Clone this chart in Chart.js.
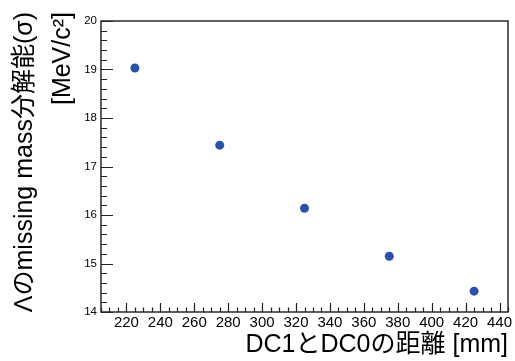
<!DOCTYPE html>
<html>
<head>
<meta charset="utf-8">
<script src="https://cdn.jsdelivr.net/npm/chart.js@4"></script>
<style>
  html, body { margin: 0; padding: 0; background: #fff; }
  canvas { display: block; }
</style>
</head>
<body>
<canvas id="c" width="515" height="361"></canvas>
<script>
// Λ missing-mass resolution versus DC1–DC0 separation
const distances = [225, 275, 325, 375, 425];          // mm
const sigma = [19.03, 17.44, 16.14, 15.15, 14.43];     // MeV/c^2

const xTickLabels = [220, 240, 260, 280, 300, 320, 340, 360, 380, 400, 420, 440];
const yTickLabels = [14, 15, 16, 17, 18, 19, 20];
const xRange = [205, 445];
const yRange = [14, 20];
const xSubdivisions = 4;   // minor divisions per major step
const ySubdivisions = 5;

const xTitle = 'DC1とDC0の距離 [mm]';
const yTitle = ['Λのmissing mass分解能(σ)', '[MeV/c²]'];

const FONT = '"Liberation Sans", Arial, Helvetica, "Noto Sans CJK JP", sans-serif';

// Frame and inward-facing tick marks, ROOT style
const frameTicks = {
  id: 'frameTicks',
  afterDraw(chart) {
    const { ctx, chartArea: a, scales } = chart;
    const xs = scales.x, ys = scales.y;
    ctx.save();
    ctx.strokeStyle = '#222';
    ctx.lineWidth = 1.2;
    ctx.lineCap = 'butt';

    // y ticks
    const yStep = (yTickLabels[1] - yTickLabels[0]) / ySubdivisions;
    const nY = Math.round((yRange[1] - yRange[0]) / yStep);
    ctx.beginPath();
    for (let i = 0; i <= nY; i++) {
      const v = yRange[0] + i * yStep;
      const major = i % ySubdivisions === 0;
      const py = Math.round(ys.getPixelForValue(v)) + 0.5;
      ctx.moveTo(a.left, py);
      ctx.lineTo(a.left + (major ? 12 : 6), py);
    }
    ctx.stroke();

    // x ticks
    const xStep = (xTickLabels[1] - xTickLabels[0]) / xSubdivisions;
    const first = Math.ceil(xRange[0] / xStep) * xStep;
    ctx.beginPath();
    for (let v = first; v <= xRange[1] + 1e-9; v += xStep) {
      const major = xTickLabels.includes(v);
      const px = Math.round(xs.getPixelForValue(v)) + 0.5;
      ctx.moveTo(px, a.bottom);
      ctx.lineTo(px, a.bottom - (major ? 9 : 4.5));
    }
    ctx.stroke();

    // frame
    ctx.lineWidth = 1.5;
    ctx.strokeStyle = '#2a2a2a';
    ctx.strokeRect(a.left, a.top, a.right - a.left, a.bottom - a.top);

    // rotated y-axis title, end-aligned near the top
    ctx.fillStyle = '#000';
    ctx.font = '25px ' + FONT;
    ctx.textAlign = 'right';
    ctx.textBaseline = 'alphabetic';
    const baselines = [32, 70];
    yTitle.forEach((line, i) => {
      ctx.save();
      ctx.translate(baselines[i], 12);
      ctx.rotate(-Math.PI / 2);
      ctx.fillText(line, 0, 0);
      ctx.restore();
    });
    ctx.restore();
  }
};

new Chart(document.getElementById('c'), {
  type: 'scatter',
  data: {
    datasets: [{
      data: distances.map((d, i) => ({ x: d, y: sigma[i] })),
      backgroundColor: '#2a52aa',
      borderColor: '#2a52aa',
      pointRadius: 4.5,
      pointHoverRadius: 4.5,
      borderWidth: 0,
      showLine: false
    }]
  },
  options: {
    responsive: false,
    animation: false,
    devicePixelRatio: 1,
    layout: { padding: { top: 21, right: 7, left: 0, bottom: 0 } },
    plugins: { legend: { display: false }, tooltip: { enabled: false } },
    scales: {
      x: {
        type: 'linear',
        min: xRange[0],
        max: xRange[1],
        afterBuildTicks(s) { s.ticks = xTickLabels.map(v => ({ value: v })); },
        afterFit(s) { s.height = 49; s.paddingLeft = 0; s.paddingRight = 0; },
        grid: { display: false, drawTicks: false },
        border: { display: false },
        ticks: {
          padding: 2,
          color: '#000',
          font: { family: FONT, size: 15 },
          maxRotation: 0,
          autoSkip: false
        },
        title: {
          display: true,
          text: xTitle,
          align: 'end',
          color: '#000',
          font: { family: FONT, size: 25 },
          padding: { top: 0, bottom: 1 }
        }
      },
      y: {
        type: 'linear',
        min: yRange[0],
        max: yRange[1],
        afterBuildTicks(s) { s.ticks = yTickLabels.map(v => ({ value: v })); },
        afterFit(s) { s.width = 101; s.paddingTop = 0; s.paddingBottom = 0; },
        grid: { display: false, drawTicks: false },
        border: { display: false },
        ticks: {
          padding: 4,
          color: '#000',
          font: { family: FONT, size: 11.5 }
        }
      }
    }
  },
  plugins: [frameTicks]
});
</script>
</body>
</html>
